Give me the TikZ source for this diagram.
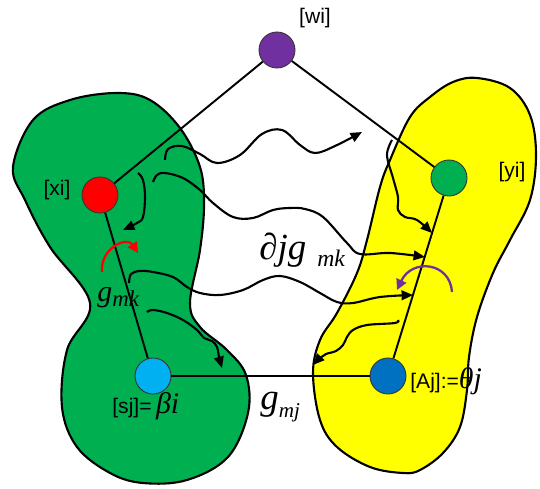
\documentclass[tikz,border=0pt]{standalone}
\usepackage{fontspec}
\setmainfont{Liberation Serif}
\newfontfamily\tagfont{Liberation Sans}
\usetikzlibrary{arrows.meta}

\definecolor{blobgreen}{RGB}{0,176,80}
\definecolor{blobyellow}{RGB}{255,255,0}
\definecolor{dotpurple}{RGB}{112,48,160}
\definecolor{dotcyan}{RGB}{0,176,240}
\definecolor{dotblue}{RGB}{0,112,192}

\newcommand\lowpart[3]{\raisebox{-#1}{\fontsize{#2}{#2}\selectfont #3}}

\begin{document}
\begin{tikzpicture}[x=0.02cm,y=-0.02cm,
    dot/.style={circle,draw=black!80,line width=0.5pt,minimum size=0.72cm,inner sep=0pt},
    link/.style={line width=1.1pt},
    wave/.style={line width=1.2pt,-{Triangle[length=6.5pt,width=5.5pt]}},
    tag/.style={font=\tagfont\fontsize{12}{12}\selectfont,inner sep=0pt},
    blob/.style={draw=black,line width=1.2pt}]
    \useasboundingbox (0,0) rectangle (540,489);

    % the two regions
    \draw[blob,fill=blobgreen] plot[smooth cycle,tension=0.6] coordinates {
        (117,93) (150,100) (180,128) (200,167) (204,205) (200,250)
        (190,303) (200,327) (227,350) (246,375) (248,413) (228,457)
        (187,480) (143,483) (110,473) (77,447) (62,407) (67,350)
        (90,303) (50,247) (25,200) (13,167) (33,120) (70,100)};
    \draw[blob,fill=blobyellow] plot[smooth cycle,tension=0.6] coordinates {
        (477,78) (510,88) (530,115) (536,155) (530,200) (510,240)
        (493,273) (477,317) (469,357) (467,390) (460,427) (443,453)
        (420,470) (403,473) (370,467) (337,447) (320,420) (313,373)
        (320,340) (337,313) (357,273) (367,240) (380,187) (390,160)
        (410,117) (430,97) (453,82)};

    % nodes
    \node[dot,fill=dotpurple] (wi) at (277,50) {};
    \node[dot,fill=red] (xi) at (100,195) {};
    \node[dot,fill=blobgreen] (yi) at (449,178) {};
    \node[dot,fill=dotcyan] (sj) at (153,376) {};
    \node[dot,fill=dotblue] (aj) at (388,376) {};

    \node[tag] (wilabel) at (315,18) {[wi]};
    \node[tag] (xilabel) at (57,190) {[xi]};
    \node[tag] (yilabel) at (512,172) {[yi]};

    \draw[link] (wi) -- (xi);
    \draw[link] (wi) -- (yi);
    \draw[link] (xi) -- (sj);
    \draw[link] (yi) -- (aj);
    \draw[link] (sj) -- (aj);

    % wavy arrows
    \draw[wave] plot[smooth,tension=0.6] coordinates {(165,160) (168,149) (182,146)
        (200,154) (217,163) (240,155) (262,134) (282,130) (300,145) (315,153)
        (335,146) (362,132)};
    \draw[wave] plot[smooth,tension=0.6] coordinates {(153,182) (157,175) (165,173)
        (183,178) (200,190) (213,203) (233,217) (253,218) (273,210) (290,208)
        (305,209) (323,217) (347,243) (360,254) (390,253) (425,257)};
    \draw[wave] plot[smooth,tension=0.6] coordinates {(138,173) (143,180) (145,197)
        (143,217) (137,223) (123,230)};
    \draw[wave] plot[smooth,tension=0.6] coordinates {(392,140) (387,155) (393,178)
        (398,197) (398,210) (405,217) (417,220) (432,233)};
    \draw[wave] plot[smooth,tension=0.6] coordinates {(129,283) (131,274) (140,271)
        (153,272) (173,277) (187,287) (200,293) (220,295) (243,290) (263,280)
        (280,276) (300,282) (320,293) (337,302) (353,303) (380,297) (413,295)};
    \draw[wave] plot[smooth,tension=0.6] coordinates {(147,312) (153,310) (167,313)
        (183,320) (197,330) (204,338) (212,341) (217,347) (219,357) (222,368)};
    \draw[wave] plot[smooth,tension=0.6] coordinates {(398,320) (395,323) (367,325)
        (353,330) (347,337) (343,345) (336,351) (326,354) (320,358) (313,365)};

    % turning arrows
    \draw[red,line width=1.3pt,-{Triangle[length=6pt,width=6pt]}]
        (102,272) .. controls (100,248) and (127,236) .. (138,253);
    \draw[dotpurple,line width=1.3pt,-{Triangle[length=6pt,width=6pt]}]
        (452,292) .. controls (450,262) and (412,258) .. (397,290);

    % labels
    \node[anchor=base west,inner sep=0pt] (gmk) at (97,301)
        {\fontsize{17}{17}\selectfont\itshape g\lowpart{3.4pt}{13}{mk}};
    \node[anchor=base west,inner sep=0pt] (djg) at (259,259)
        {\fontsize{21}{21}\selectfont\itshape ∂jg\hspace{0.3em}\lowpart{4.5pt}{13.5}{mk}};
    \node[anchor=base west,inner sep=0pt] (gmj) at (260,409)
        {\fontsize{21}{21}\selectfont\itshape g\lowpart{5pt}{12}{mj}};
    \node[anchor=base west,inner sep=0pt] (sjlabel) at (112,413)
        {{\tagfont\fontsize{12}{12}\selectfont [sj]=} {\fontsize{17}{17}\selectfont\itshape βi}};
    \node[anchor=base west,inner sep=0pt] (ajlabel) at (410,388)
        {{\tagfont\fontsize{12}{12}\selectfont [Aj]:=}{\fontsize{17}{17}\selectfont\itshape θj}};
\end{tikzpicture}
\end{document}
